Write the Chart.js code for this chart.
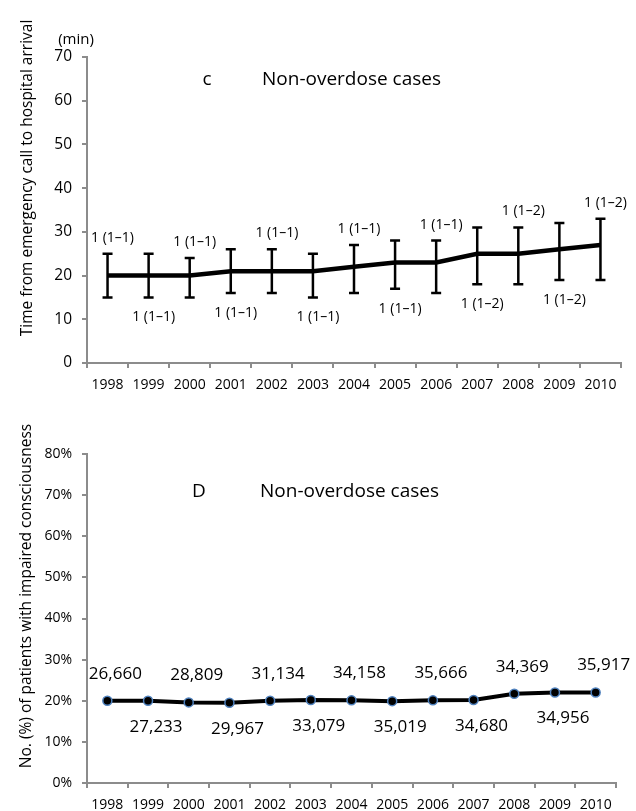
<!DOCTYPE html>
<html>
<head>
<meta charset="utf-8">
<script src="https://cdn.jsdelivr.net/npm/chart.js@4.4.1/dist/chart.umd.min.js"></script>
<style>
  body { margin: 0; background: #fff; }
  canvas { position: absolute; left: 0; }
</style>
</head>
<body>
<canvas id="timeChart" width="636" height="395" style="top:0"></canvas>
<canvas id="consChart" width="636" height="416" style="top:395px"></canvas>
<script>
// data
const years = ["1998", "1999", "2000", "2001", "2002", "2003", "2004", "2005", "2006", "2007", "2008", "2009", "2010"];

// panel c: minutes from emergency call to hospital arrival
const timeMedian = [20, 20, 20, 21, 21, 21, 22, 23, 23, 25, 25, 26, 27];
const timeLower = [15, 15, 15, 16, 16, 15, 16, 17, 16, 18, 18, 19, 19];
const timeUpper = [25, 25, 24, 26, 26, 25, 27, 28, 28, 31, 31, 32, 33];
const timeLabels = ["1 (1–1)", "1 (1–1)", "1 (1–1)", "1 (1–1)", "1 (1–1)", "1 (1–1)", "1 (1–1)",
    "1 (1–1)", "1 (1–1)", "1 (1–2)", "1 (1–2)", "1 (1–2)", "1 (1–2)"];
const timeTicks = [0, 10, 20, 30, 40, 50, 60, 70];

// panel D: % of patients with impaired consciousness
const consPercent = [20.0, 20.0, 19.6, 19.5, 20.0, 20.2, 20.1, 19.9, 20.1, 20.2, 21.7, 22.0, 22.0];
const consCounts = ["26,660", "27,233", "28,809", "29,967", "31,134", "33,079", "34,158",
    "35,019", "35,666", "34,680", "34,369", "34,956", "35,917"];
const consTicks = [0, 10, 20, 30, 40, 50, 60, 70, 80];

const FONT = "'Open Sans', 'DejaVu Sans', sans-serif";
const AXIS = "#8c8c8c";

// error bars drawn through the chart's own scales
const errorBars = {
    id: "errorBars",
    afterDatasetsDraw(chart, args, opts) {
        if (!opts.lower) return;
        const { ctx, scales: { x, y } } = chart;
        ctx.save();
        ctx.strokeStyle = "#000";
        ctx.lineWidth = 2.5;
        opts.lower.forEach((lo, i) => {
            const px = x.getPixelForValue(i);
            const yl = y.getPixelForValue(lo);
            const yu = y.getPixelForValue(opts.upper[i]);
            ctx.beginPath();
            ctx.moveTo(px, yl); ctx.lineTo(px, yu);
            ctx.moveTo(px - 5, yl); ctx.lineTo(px + 5, yl);
            ctx.moveTo(px - 5, yu); ctx.lineTo(px + 5, yu);
            ctx.stroke();
        });
        ctx.restore();
    }
};

// alternating labels above / below each point
const pointLabels = {
    id: "pointLabels",
    afterDatasetsDraw(chart, args, opts) {
        if (!opts.texts) return;
        const { ctx, scales: { x, y } } = chart;
        ctx.save();
        ctx.font = opts.size + "px " + FONT;
        ctx.fillStyle = "#000";
        ctx.textAlign = "center";
        ctx.textBaseline = "middle";
        opts.texts.forEach((t, i) => {
            const px = x.getPixelForValue(i) + opts.dx;
            let py;
            if (i % 2 === 0) py = y.getPixelForValue(opts.upper[i]) - opts.above;
            else py = y.getPixelForValue(opts.lower[i]) + opts.below;
            ctx.fillText(t, px, py);
        });
        ctx.restore();
    }
};

// panel letter, subtitle and rotated axis title
const notes = {
    id: "notes",
    afterDraw(chart, args, opts) {
        const ctx = chart.ctx;
        ctx.save();
        ctx.fillStyle = "#000";
        ctx.textBaseline = "middle";
        ctx.font = "19px " + FONT;
        ctx.textAlign = "center";
        ctx.fillText(opts.letter, opts.letterX, opts.titleY);
        ctx.textAlign = "left";
        ctx.fillText("Non-overdose cases", opts.titleX, opts.titleY);
        if (opts.unit) {
            ctx.font = "15px " + FONT;
            ctx.textAlign = "center";
            ctx.fillText(opts.unit, 76, 40);
        }
        ctx.translate(opts.axisX, opts.axisY);
        ctx.rotate(-Math.PI / 2);
        ctx.font = "15.5px " + FONT;
        ctx.textAlign = "center";
        ctx.fillText(opts.axisTitle, 0, 0);
        ctx.restore();
    }
};

function xAxis(height, size) {
    return {
        offset: true,
        grid: { offset: true, drawOnChartArea: false, color: AXIS, lineWidth: 2, tickLength: 5 },
        border: { color: AXIS, width: 2 },
        ticks: { color: "#000", font: { family: FONT, size: size }, padding: 9, maxRotation: 0, autoSkip: false },
        afterFit(s) { s.height = height; }
    };
}

function yAxis(min, max, ticks, size, fmt) {
    return {
        min: min,
        max: max,
        afterBuildTicks(s) { s.ticks = ticks.map(v => ({ value: v })); },
        grid: { drawOnChartArea: false, color: AXIS, lineWidth: 2, tickLength: 5 },
        border: { color: AXIS, width: 2 },
        ticks: { color: "#000", font: { family: FONT, size: size }, padding: 10, callback: fmt },
        afterFit(s) { s.width = 87; }
    };
}

// Panel c
new Chart(document.getElementById("timeChart"), {
    type: "line",
    data: {
        labels: years,
        datasets: [{
            data: timeMedian,
            borderColor: "#000",
            borderWidth: 4.5,
            pointRadius: 0,
            tension: 0
        }]
    },
    options: {
        responsive: false,
        animation: false,
        layout: { padding: { left: 0, right: 15, top: 57, bottom: 0 } },
        plugins: {
            legend: { display: false },
            tooltip: { enabled: false },
            errorBars: { lower: timeLower, upper: timeUpper },
            pointLabels: { texts: timeLabels, lower: timeLower, upper: timeUpper, size: 14, dx: 5, above: 16, below: 20 },
            notes: { letter: "c", letterX: 207, titleX: 262, titleY: 80, unit: "(min)",
                axisTitle: "Time from emergency call to hospital arrival", axisX: 28, axisY: 178 }
        },
        scales: {
            x: xAxis(32, 14),
            y: yAxis(0, 70, timeTicks, 15.5, v => v)
        }
    },
    plugins: [errorBars, pointLabels, notes]
});

// Panel D
new Chart(document.getElementById("consChart"), {
    type: "line",
    data: {
        labels: years,
        datasets: [{
            data: consPercent,
            borderColor: "#000",
            borderWidth: 4,
            pointRadius: 4.5,
            pointBackgroundColor: "#000",
            pointBorderColor: "#4f81bd",
            pointBorderWidth: 1.5,
            tension: 0
        }]
    },
    options: {
        responsive: false,
        animation: false,
        layout: { padding: { left: 0, right: 20, top: 59, bottom: 0 } },
        plugins: {
            legend: { display: false },
            tooltip: { enabled: false },
            pointLabels: { texts: consCounts, lower: consPercent, upper: consPercent, size: 17, dx: 8, above: 27, below: 26 },
            notes: { letter: "D", letterX: 199, titleX: 260, titleY: 97,
                axisTitle: "No. (%) of patients with impaired consciousness", axisX: 27, axisY: 201 }
        },
        scales: {
            x: xAxis(28, 14),
            y: yAxis(0, 80, consTicks, 14, v => v + "%")
        }
    },
    plugins: [pointLabels, notes]
});
</script>
</body>
</html>
